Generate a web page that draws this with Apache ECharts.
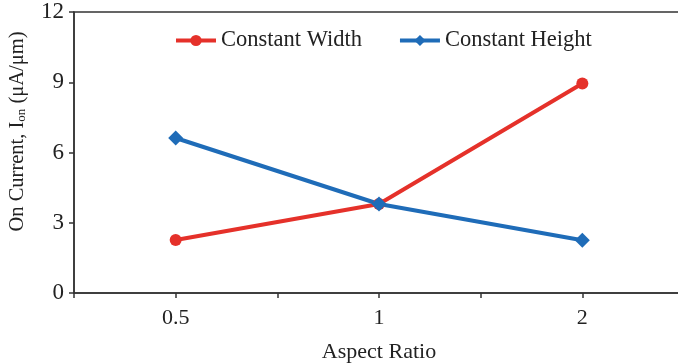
<!DOCTYPE html>
<html>
<head>
<meta charset="utf-8">
<script src="https://cdn.jsdelivr.net/npm/echarts@6/dist/echarts.min.js"></script>
<style>
  html, body { margin: 0; padding: 0; background: #fff; }
  #main { width: 678px; height: 364px; }
</style>
</head>
<body>
<div id="main"></div>
<script>
// aspect ratio categories
const ratios = ['0.5', '1', '2'];
const constantWidth = [2.26, 3.8, 8.95];
const constantHeight = [6.62, 3.8, 2.25];
const yTicks = { min: 0, max: 12, interval: 3 };

const font = '"Liberation Serif", "Times New Roman", serif';
const ink = '#222';

const chart = echarts.init(document.getElementById('main'));
chart.setOption({
  backgroundColor: '#fff',
  animation: false,
  textStyle: { fontFamily: font, color: ink },
  grid: {
    left: 74,
    right: -6,
    top: 12,
    bottom: 71,
    containLabel: false,
    outerBoundsMode: 'none',
    show: true,
    borderColor: '#333',
    borderWidth: 1.5
  },
  legend: {
    left: 169,
    top: 24,
    itemWidth: 40,
    itemHeight: 14,
    itemGap: 36,
    lineStyle: { width: 4 },
    textStyle: { fontFamily: font, fontSize: 22.5, color: ink },
    data: ['Constant Width', 'Constant Height']
  },
  xAxis: [
    {
      type: 'category',
      data: ratios,
      boundaryGap: true,
      name: 'Aspect Ratio',
      nameLocation: 'middle',
      nameGap: 48,
      nameTextStyle: { fontFamily: font, fontSize: 22, color: ink },
      axisLine: { lineStyle: { color: '#333', width: 1.5 } },
      axisTick: { show: true, length: 5, lineStyle: { color: '#333', width: 1.5 } },
      axisLabel: { margin: 14, fontFamily: font, fontSize: 22, color: ink },
      splitLine: { show: false }
    },
    {
      // extra ticks under each category
      type: 'category',
      data: ratios,
      position: 'bottom',
      boundaryGap: true,
      axisLine: { show: false },
      axisTick: { show: true, alignWithLabel: true, length: 5, lineStyle: { color: '#333', width: 1.5 } },
      axisLabel: { show: false },
      splitLine: { show: false }
    }
  ],
  yAxis: {
    type: 'value',
    min: yTicks.min,
    max: yTicks.max,
    interval: yTicks.interval,
    name: '{a|On Current, I}{s|on}{a| (μA/μm)}',
    nameLocation: 'middle',
    nameGap: 46,
    nameTextStyle: {
      padding: [0, 0, 0, 42],
      rich: {
        a: { fontFamily: font, fontSize: 20.5, color: ink },
        s: { fontFamily: font, fontSize: 13, color: ink, verticalAlign: 'bottom', padding: [8, 0, 0, 0] }
      }
    },
    axisLine: { show: true, lineStyle: { color: '#333', width: 1.5 } },
    axisTick: { show: true, length: 5, lineStyle: { color: '#333', width: 1.5 } },
    axisLabel: { margin: 10, fontFamily: font, fontSize: 23, color: ink },
    splitLine: { show: false }
  },
  series: [
    {
      name: 'Constant Width',
      type: 'line',
      data: constantWidth,
      symbol: 'circle',
      symbolSize: 12,
      color: '#e5312a',
      lineStyle: { width: 4 },
      itemStyle: { color: '#e5312a' }
    },
    {
      name: 'Constant Height',
      type: 'line',
      data: constantHeight,
      symbol: 'diamond',
      symbolSize: 15,
      color: '#1f6cb8',
      lineStyle: { width: 4 },
      itemStyle: { color: '#1f6cb8' }
    }
  ]
});
</script>
</body>
</html>
